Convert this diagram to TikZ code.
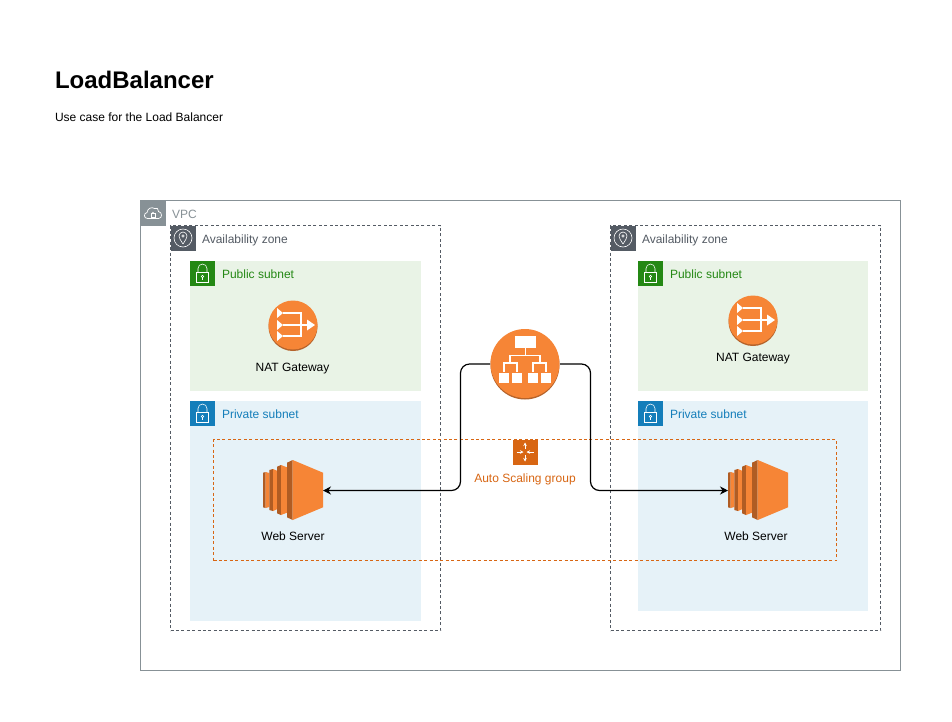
\documentclass[tikz,border=0pt]{standalone}
\usepackage{fontspec}
\setmainfont{Liberation Sans}
\usetikzlibrary{arrows.meta}
\definecolor{vpcgray}{HTML}{879196}
\definecolor{azgray}{HTML}{545B64}
\definecolor{pubgreen}{HTML}{248814}
\definecolor{pubfill}{HTML}{E9F3E6}
\definecolor{privblue}{HTML}{147EBA}
\definecolor{privfill}{HTML}{E6F2F8}
\definecolor{asgorange}{HTML}{D86613}
\definecolor{awsorange}{HTML}{F68536}
\definecolor{awsdark}{HTML}{B05C23}
\definecolor{awsshadow}{HTML}{B5632B}
\tikzset{
  x=1pt,y=-1pt,
  every node/.style={inner sep=0pt,outer sep=0pt,font=\fontsize{12}{14}\selectfont},
  box/.style={anchor=north west,rectangle},
  vpcbox/.style={box,draw=vpcgray,line width=0.8pt},
  azbox/.style={box,draw=azgray,line width=0.8pt,dash pattern=on 3pt off 2.4pt},
  pubbox/.style={box,fill=pubfill},
  privbox/.style={box,fill=privfill},
  asgbox/.style={box,draw=asgorange,line width=0.8pt,dash pattern=on 3pt off 2.4pt},
  lbl/.style={anchor=west},
  caption/.style={anchor=center,text=black},
  slot/.style={rectangle,minimum width=#1,minimum height=#1},
  link/.style={draw=black,line width=1.2pt,rounded corners=9pt,-{Stealth[length=8pt,width=8pt]}},
  lockicon/.pic={
    \fill[#1] (0,0) rectangle (25,25);
    \draw[white,line width=0.55pt] (6.5,12) rectangle (18.5,22);
    \draw[white,line width=0.55pt] (8,12) -- (8,8) arc[start angle=180,end angle=0,x radius=4.5,y radius=-4.5] -- (17,12);
    \draw[white,line width=0.5pt] (12.5,16) circle[radius=1.2];
    \draw[white,line width=0.5pt] (12.5,17.2) -- (12.5,19.5);
  },
  azicon/.pic={
    \fill[azgray] (0,0) rectangle (25,25);
    \draw[white,line width=0.6pt] (12.5,12.5) circle[radius=9];
    \draw[white,line width=0.6pt] (12.5,18.5) .. controls (10,14.5) and (8.5,12.5) .. (8.5,10.5)
      arc[start angle=180,end angle=0,x radius=4,y radius=-4]
      .. controls (16.5,12.5) and (15,14.5) .. (12.5,18.5);
    \draw[white,line width=0.6pt] (12.5,10.5) circle[radius=1.3];
  },
  cloudicon/.pic={
    \fill[vpcgray] (0,0) rectangle (25,25);
    \draw[white,line width=0.7pt] (7,18) .. controls (3,18) and (3,12.5) .. (6.5,12)
      .. controls (7,8) and (11,6) .. (14,8) .. controls (16,6.5) and (18.5,8.5) .. (18,11)
      .. controls (22,11.5) and (22,18) .. (18,18) -- cycle;
    \draw[white,line width=0.6pt] (10.5,13) rectangle (14.5,16.5);
    \draw[white,line width=0.5pt] (11.3,13) arc[start angle=180,end angle=0,x radius=1.2,y radius=-1.4];
  },
  natglyph/.pic={
    \fill[awsshadow] (0,1.5) circle[radius=24.5];
    \fill[awsorange] (0,0) circle[radius=24.5];
    \foreach \yy in {-12,0,11}{\fill[white] (-16,\yy-5) -- (-10,\yy) -- (-16,\yy+5) -- cycle;}
    \draw[white,line width=1.6pt] (-10,-12) -- (8,-12) -- (8,11) -- (-10,11);
    \draw[white,line width=1.6pt] (-10,0) -- (15,0);
    \fill[white] (14,-5.5) -- (22,0) -- (14,5.5) -- cycle;
  },
  lbglyph/.pic={
    \fill[awsshadow] (0,1.5) circle[radius=34.5];
    \fill[awsorange] (0,0) circle[radius=34.5];
    \fill[white] (-10,-28) rectangle (11,-16);
    \draw[white,line width=1.4pt] (0.5,-16) -- (0.5,-8) (-15,-0.5) -- (-15,-8) -- (15,-8) -- (15,-0.5);
    \draw[white,line width=1.4pt] (-21,8) -- (-21,-0.5) -- (-8,-0.5) -- (-8,8);
    \draw[white,line width=1.4pt] (8,8) -- (8,-0.5) -- (21,-0.5) -- (21,8);
    \fill[white] (-26,9) rectangle (-16,19);
    \fill[white] (-13,9) rectangle (-3,19);
    \fill[white] (3,9) rectangle (13,19);
    \fill[white] (16,9) rectangle (26,19);
  },
  ecglyph/.pic={
    \fill[awsdark] (0,12.7) -- (2.7,12) -- (2.7,48) -- (0,47.3) -- cycle;
    \fill[awsorange] (2.7,12) -- (6.3,13) -- (6.3,47) -- (2.7,48) -- cycle;
    \fill[awsdark] (6.3,10) -- (10,9) -- (10,51) -- (6.3,50) -- cycle;
    \fill[awsorange] (10,9) -- (14,10.7) -- (14,49.3) -- (10,51) -- cycle;
    \fill[awsdark] (14,6.7) -- (18,5) -- (18,55) -- (14,53.3) -- cycle;
    \fill[awsorange] (18,5) -- (24,7.3) -- (24,52.7) -- (18,55) -- cycle;
    \fill[awsdark] (24,2.7) -- (29.7,0) -- (29.7,60) -- (24,57.3) -- cycle;
    \fill[awsorange] (29.7,0) -- (60,12.7) -- (60,47.3) -- (29.7,60) -- cycle;
  },
  asgglyph/.pic={
    \fill[asgorange] (0,0) rectangle (25,25);
    \draw[white,line width=0.7pt,-{Stealth[length=3.5pt,width=3.5pt]}] (12.5,9.5) -- (12.5,3);
    \draw[white,line width=0.7pt,-{Stealth[length=3.5pt,width=3.5pt]}] (12.5,15.5) -- (12.5,22);
    \draw[white,line width=0.7pt,-{Stealth[length=3.5pt,width=3.5pt]}] (4,12.5) -- (11,12.5);
    \draw[white,line width=0.7pt,-{Stealth[length=3.5pt,width=3.5pt]}] (21,12.5) -- (14,12.5);
  },
}
\begin{document}
\begin{tikzpicture}
\useasboundingbox (0,0) rectangle (952,721);
\fill[white] (0,0) rectangle (952,721);
% title
\node[anchor=west,font=\fontsize{24}{28}\bfseries\selectfont] (title) at (55,80) {LoadBalancer};
\node[anchor=west] (subtitle) at (55,117) {Use case for the Load Balancer};
% containers
\node[vpcbox,minimum width=760,minimum height=470] (vpc) at (140.5,200.5) {};
\node[azbox,minimum width=270,minimum height=405] (azl) at (170.5,225.5) {};
\node[azbox,minimum width=270,minimum height=405] (azr) at (610.5,225.5) {};
\node[pubbox,minimum width=230.5,minimum height=130] (publ) at (190,260.5) {};
\node[privbox,minimum width=230.5,minimum height=220] (privl) at (190,400.5) {};
\node[pubbox,minimum width=230,minimum height=130] (pubr) at (638,260.5) {};
\node[privbox,minimum width=230,minimum height=210] (privr) at (638,400.5) {};
\node[asgbox,minimum width=623,minimum height=121] (asg) at (213.5,439.5) {};
% header icons
\pic at (140.5,200.5) {cloudicon};
\pic at (170.5,225.5) {azicon};
\pic at (610.5,225.5) {azicon};
\pic at (190,260.5) {lockicon=pubgreen};
\pic at (638,260.5) {lockicon=pubgreen};
\pic at (190,400.5) {lockicon=privblue};
\pic at (638,400.5) {lockicon=privblue};
\pic at (512.5,439.5) {asgglyph};
% header labels
\node[lbl,text=vpcgray] (vpclabel) at (172,214) {VPC};
\node[lbl,text=azgray] (azllabel) at (202,240) {Availability zone};
\node[lbl,text=azgray] (azrlabel) at (642,240) {Availability zone};
\node[lbl,text=pubgreen] (publlabel) at (222,274) {Public subnet};
\node[lbl,text=pubgreen] (pubrlabel) at (670,274) {Public subnet};
\node[lbl,text=privblue] (privllabel) at (222,414) {Private subnet};
\node[lbl,text=privblue] (privrlabel) at (670,414) {Private subnet};
\node[anchor=center,text=asgorange] (asglabel) at (525,479) {Auto Scaling group};
% service icons
\node[slot=50] (natl) at (293,325) {};
\pic at (293,325) {natglyph};
\node[caption] (natllabel) at (292.5,369) {NAT Gateway};
\node[slot=50] (natr) at (753,320) {};
\pic at (753,320) {natglyph};
\node[caption] (natrlabel) at (753,359) {NAT Gateway};
\node[slot=70,circle] (lb) at (525,364) {};
\pic at (525,363.5) {lbglyph};
\node[slot=60] (webl) at (293,490.5) {};
\pic at (263,460) {ecglyph};
\node[caption] (webllabel) at (293,536) {Web Server};
\node[slot=60] (webr) at (758,490.5) {};
\pic at (728,460) {ecglyph};
\node[caption] (webrlabel) at (756,536) {Web Server};
% connectors
\draw[link] (lb.west) -- (460.5,364) -- (460.5,490.5) -- (webl.east);
\draw[link] (lb.east) -- (590.5,364) -- (590.5,490.5) -- (webr.west);
\end{tikzpicture}
\end{document}
